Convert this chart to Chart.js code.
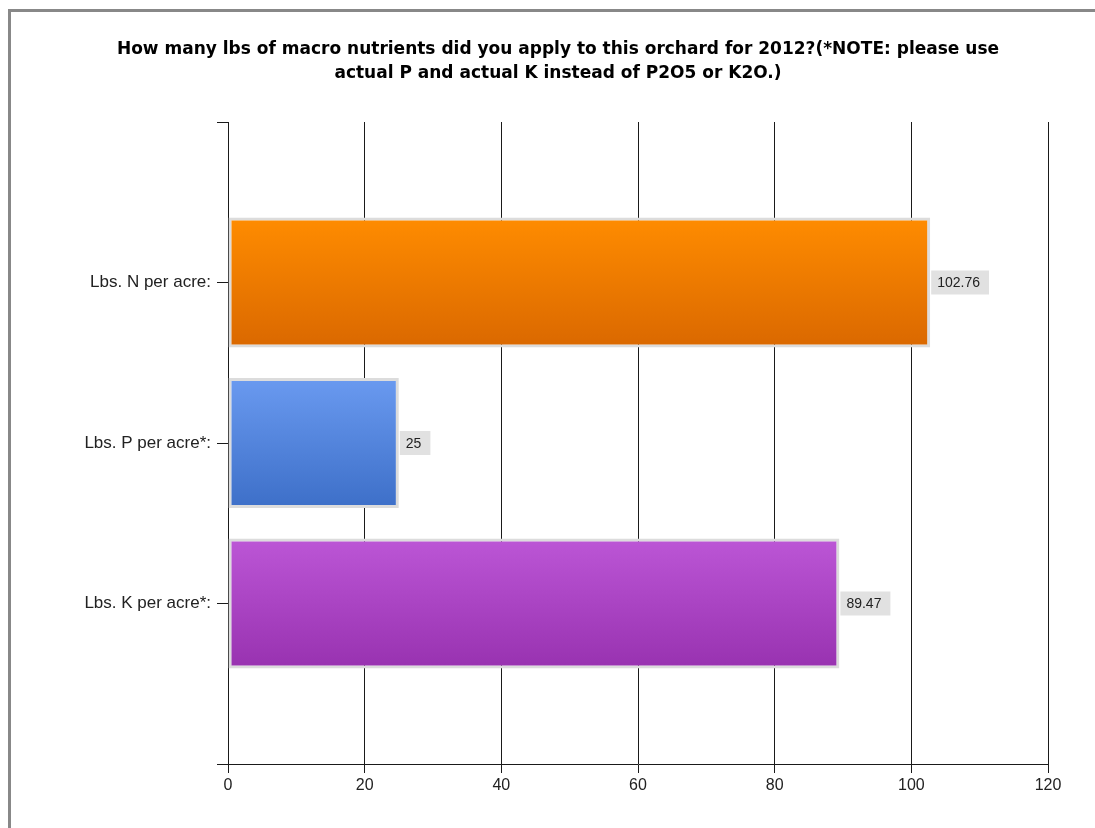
<!DOCTYPE html>
<html>
<head>
<meta charset="utf-8">
<script src="https://cdn.jsdelivr.net/npm/chart.js@4/dist/chart.umd.min.js"></script>
<style>
  html, body { margin: 0; padding: 0; background: #fff; overflow: hidden; }
  #frame { position: absolute; left: 8px; top: 9px; width: 1200px; height: 900px; border: 3px solid #888; }
  #chart { position: absolute; left: 0; top: 0; }
</style>
</head>
<body>
<div id="frame"><canvas id="chart" width="1094" height="816"></canvas></div>
<script>
// ---- Data ----

const titleLines = [
  'How many lbs of macro nutrients did you apply to this orchard for 2012?(*NOTE: please use',
  'actual P and actual K instead of P2O5 or K2O.)'
]
const categories = ['Lbs. N per acre:', 'Lbs. P per acre*:', 'Lbs. K per acre*:']
const values     = [102.76, 25, 89.47]
const valueText  = ['102.76', '25', '89.47']
const topColors  = ['#ff8c00', '#6a9af0', '#bc56d6']
const botColors  = ['#da6800', '#3d6fc8', '#9832b0']
const xTicks     = [0, 20, 40, 60, 80, 100, 120]

const BAR_PCT = 0.81
const AXIS = '#1a1a1a'
const FONT = '"Liberation Sans", Arial, sans-serif'

// ---- Helpers ----

function barGradient(c) {
  const i = c.dataIndex
  const y = c.chart.scales.y
  if (!y || !isFinite(y.getPixelForValue(0))) return topColors[i]
  const mid  = y.getPixelForValue(i)
  const half = Math.abs(y.getPixelForValue(1) - y.getPixelForValue(0)) * BAR_PCT / 2
  const g = c.chart.ctx.createLinearGradient(0, mid - half, 0, mid + half)
  g.addColorStop(0, topColors[i])
  g.addColorStop(1, botColors[i])
  return g
}

// value boxes to the right of each bar
const valueLabels = {
  id: 'valueLabels',
  afterDatasetsDraw(chart) {
    const ctx = chart.ctx
    const meta = chart.getDatasetMeta(0)
    ctx.save()
    ctx.font = '14px ' + FONT
    ctx.textBaseline = 'middle'
    meta.data.forEach((bar, i) => {
      const t = valueText[i]
      const w = ctx.measureText(t).width + 15
      const x = bar.x + 1
      ctx.fillStyle = '#e1e1e1'
      ctx.fillRect(x, bar.y - 12, w, 24)
      ctx.fillStyle = '#222'
      ctx.fillText(t, x + 6, bar.y + 1)
    })
    ctx.restore()
  }
}

// ---- Chart ----

new Chart(document.getElementById('chart').getContext('2d'), {
  type: 'bar',
  data: {
    datasets: [{
      data: values.map((v, i) => ({ x: v, y: i })),
      backgroundColor: barGradient,
      borderColor: '#dcdcdc',
      borderWidth: 3,
      borderSkipped: false,
      categoryPercentage: 1,
      barPercentage: BAR_PCT
    }]
  },
  options: {
    indexAxis: 'y',
    responsive: false,
    animation: false,
    layout: { padding: { left: 57, right: 57, top: 0, bottom: 0 } },
    plugins: {
      legend: { display: false },
      tooltip: { enabled: false },
      title: {
        display: true,
        text: titleLines,
        color: '#000',
        font: { family: '"DejaVu Sans", Verdana, sans-serif', size: 17, weight: 'bold', lineHeight: 24 / 17 },
        padding: { top: 26, bottom: 36 }
      }
    },
    scales: {
      x: {
        type: 'linear',
        min: 0,
        max: 120,
        afterBuildTicks: s => { s.ticks = xTicks.map(v => ({ value: v })) },
        afterFit: s => { s.height = 64 },
        grid: { color: AXIS, lineWidth: 1, tickLength: 9, drawOnChartArea: true },
        border: { color: AXIS, width: 1 },
        ticks: { color: '#222', padding: 3, font: { family: FONT, size: 16 } }
      },
      y: {
        type: 'linear',
        reverse: true,
        offset: false,
        min: -1,
        max: categories.length,
        afterBuildTicks: s => {
          s.ticks = [-1, ...categories.map((c, i) => i), categories.length].map(v => ({ value: v }))
        },
        afterFit: s => { s.width = 160 },
        grid: { color: AXIS, lineWidth: 1, tickLength: 11, drawOnChartArea: false, offset: false },
        border: { color: AXIS, width: 1 },
        ticks: {
          color: '#222',
          padding: 6,
          autoSkip: false,
          callback: v => categories[v] ?? '',
          font: { family: FONT, size: 17 }
        }
      }
    }
  },
  plugins: [valueLabels]
})
</script>
</body>
</html>
